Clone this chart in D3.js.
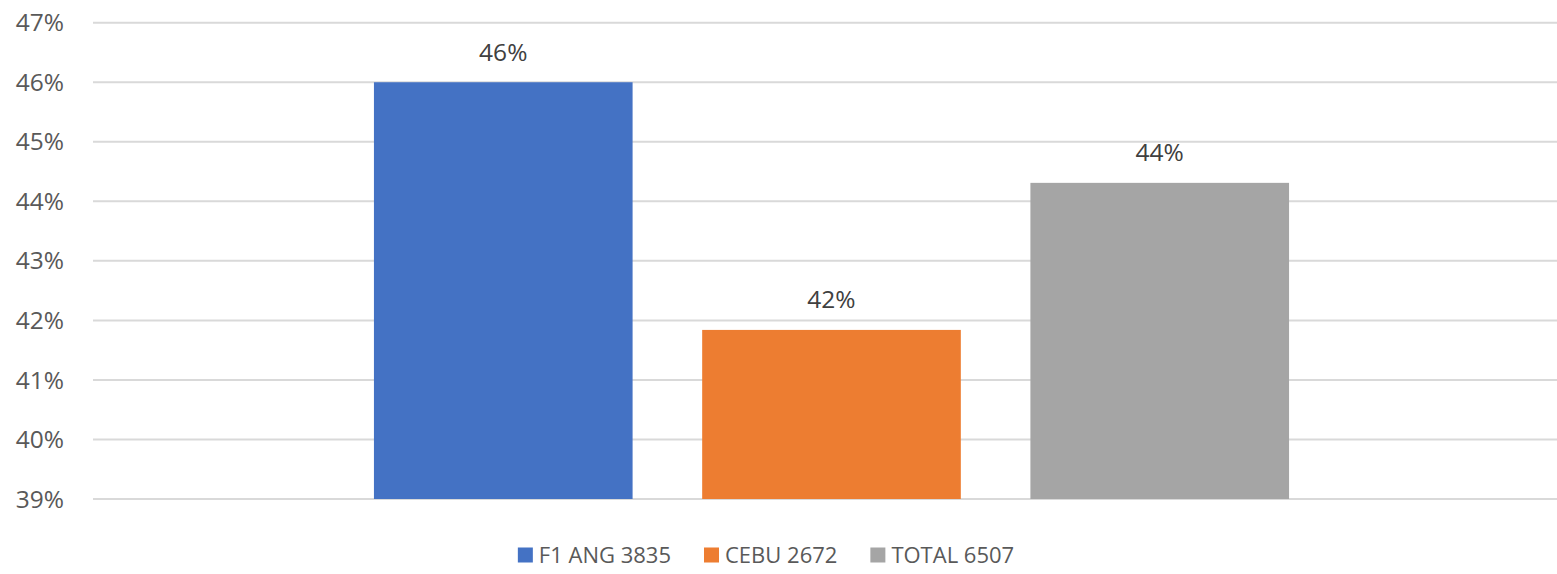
<!DOCTYPE html>
<html>
<head>
<meta charset="utf-8">
<script src="https://cdn.jsdelivr.net/npm/d3@7"></script>
<style>
  html, body { margin: 0; padding: 0; background: #fff; }
  svg { display: block; font-family: "Open Sans", "Liberation Sans", sans-serif; }
</style>
</head>
<body>
<svg id="chart" width="1557" height="574"></svg>
<script>
// data
var category = ["all"];
var seriesNames = ["F1 ANG 3835", "CEBU 2672", "TOTAL 6507"];
var seriesValues = [46.0, 41.84, 44.31];
var seriesColors = ["#4472c4", "#ed7d31", "#a5a5a5"];
var yTicks = [39, 40, 41, 42, 43, 44, 45, 46, 47];

var svg = d3.select("#chart");
var width = 1557, height = 574;

var plotLeft = 93, plotRight = 1570, plotTop = 22.7, plotBottom = 499;

var y = d3.scaleLinear()
    .domain([39, 47])
    .range([plotBottom, plotTop]);

var x0 = d3.scaleBand()
    .domain(category)
    .range([plotLeft, plotRight])
    .paddingOuter(0.307);

var x1 = d3.scaleBand()
    .domain(seriesNames)
    .range([0, x0.bandwidth()])
    .paddingInner(0.212)
    .paddingOuter(0);

// gridlines
svg.append("g")
    .selectAll("line")
    .data(yTicks)
    .enter()
    .append("line")
    .attr("x1", plotLeft)
    .attr("x2", width)
    .attr("y1", function(d){ return y(d); })
    .attr("y2", function(d){ return y(d); })
    .attr("stroke", "#d9d9d9")
    .attr("stroke-width", 2);

// y labels
svg.append("g")
    .selectAll("text")
    .data(yTicks)
    .enter()
    .append("text")
    .attr("x", 64)
    .attr("y", function(d){ return y(d); })
    .attr("dy", "0.35em")
    .attr("text-anchor", "end")
    .attr("fill", "#595959")
    .style("font-size", "24.5px")
    .text(function(d){ return d + "%"; });

var bars = seriesNames.map(function(name, i){
    return { name: name, value: seriesValues[i], color: seriesColors[i] };
});

var g = svg.append("g")
    .attr("transform", "translate(" + x0(category[0]) + ",0)");

g.selectAll("rect")
    .data(bars)
    .enter()
    .append("rect")
    .attr("x", function(d){ return x1(d.name); })
    .attr("width", x1.bandwidth())
    .attr("y", function(d){ return y(d.value); })
    .attr("height", function(d){ return y(39) - y(d.value); })
    .attr("fill", function(d){ return d.color; });

g.selectAll("text.val")
    .data(bars)
    .enter()
    .append("text")
    .attr("class", "val")
    .attr("x", function(d){ return x1(d.name) + x1.bandwidth() / 2; })
    .attr("y", function(d){ return y(d.value) - 30; })
    .attr("dy", "0.35em")
    .attr("text-anchor", "middle")
    .attr("fill", "#404040")
    .style("font-size", "24.5px")
    .text(function(d){ return Math.round(d.value) + "%"; });

// legend
var legend = svg.append("g");
var items = legend.selectAll("g")
    .data(bars)
    .enter()
    .append("g");

items.append("rect")
    .attr("width", 15)
    .attr("height", 15)
    .attr("y", -7.5)
    .attr("fill", function(d){ return d.color; });

items.append("text")
    .attr("x", 21)
    .attr("dy", "0.35em")
    .attr("fill", "#595959")
    .style("font-size", "22px")
    .text(function(d){ return d.name; });

var pos = 0, gap = 33, widths = [];
items.each(function(){
    widths.push(this.getBBox().width);
});
var total = d3.sum(widths) + gap * (widths.length - 1);
var start = 766 - total / 2;
items.attr("transform", function(d, i){
    var tx = start + pos;
    pos += widths[i] + gap;
    return "translate(" + tx + ",555)";
});
</script>
</body>
</html>
